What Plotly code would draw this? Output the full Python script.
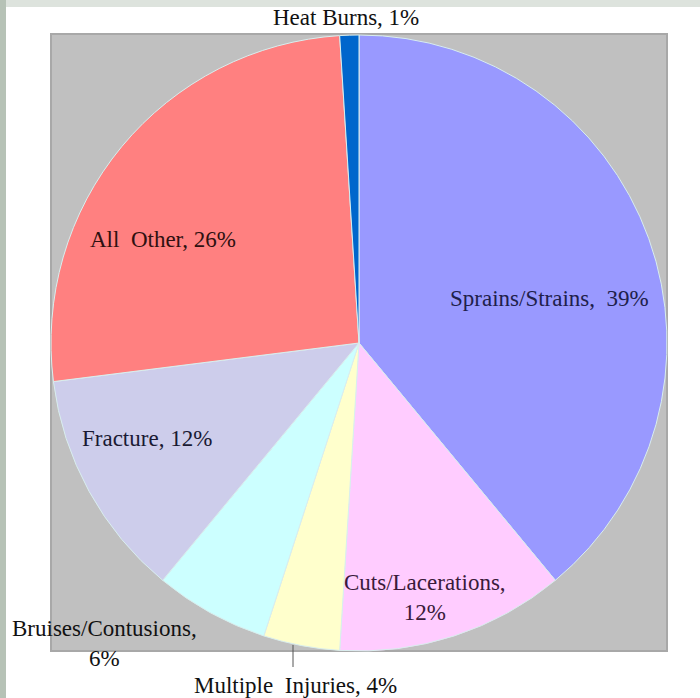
import plotly.graph_objects as go

categories = ["Sprains/Strains", "Cuts/Lacerations", "Multiple Injuries",
              "Bruises/Contusions", "Fracture", "All Other", "Heat Burns"]
values = [39, 12, 4, 6, 12, 26, 1]
label_texts = ["Sprains/Strains,  39%", "Cuts/Lacerations,<br>12%",
               "Multiple  Injuries, 4%", "Bruises/Contusions,<br>6%",
               "Fracture, 12%", "All  Other, 26%", "Heat Burns, 1%"]
colors = ["#9999ff", "#ffccff", "#ffffcc", "#ccffff", "#cdcdeb", "#ff8080", "#0066cc"]
text_colors = ["#20204a", "#3a1a3a", "#111111", "#111111", "#1a1a33", "#2e1010", "#111111"]
# label centres in pixels (x, y from top)
label_px = [(549, 299), (425, 597), (295, 685), (104, 643), (147, 438), (163, 239), (346, 18)]

W, H = 700, 698

def px(x):
    return x / W

def py(y):
    return 1 - y / H

fig = go.Figure()
fig.add_trace(go.Pie(
    labels=categories, values=values, sort=False, direction="clockwise", rotation=0,
    marker=dict(colors=colors, line=dict(color="#d9eeee", width=1)),
    textinfo="none", hoverinfo="label+percent", showlegend=False,
    domain=dict(x=[px(51), px(667)], y=[py(651), py(35)]),
))

shapes = [
    dict(type="rect", xref="paper", yref="paper", x0=0, x1=1, y0=py(7), y1=1,
         fillcolor="#dde3dd", line=dict(width=0), layer="below"),
    dict(type="rect", xref="paper", yref="paper", x0=0, x1=px(6), y0=0, y1=1,
         fillcolor="#b6c2b6", line=dict(width=0), layer="below"),
    dict(type="rect", xref="paper", yref="paper", x0=px(51), x1=px(667), y0=py(651), y1=py(34),
         fillcolor="#c0c0c0", line=dict(color="#a8a8a8", width=2), layer="below"),
    dict(type="line", xref="paper", yref="paper", x0=px(293), x1=px(293), y0=py(645), y1=py(667),
         line=dict(color="#555555", width=1)),
]

annotations = []
for t, (x, y), c in zip(label_texts, label_px, text_colors):
    annotations.append(dict(text=t, x=px(x), y=py(y), xref="paper", yref="paper",
                            xanchor="center", yanchor="middle", showarrow=False,
                            font=dict(family="Liberation Serif", size=23, color=c)))

fig.update_layout(width=W, height=H, margin=dict(l=0, r=0, t=0, b=0),
                  paper_bgcolor="white", plot_bgcolor="white",
                  shapes=shapes, annotations=annotations)
fig.write_html("out.html")
